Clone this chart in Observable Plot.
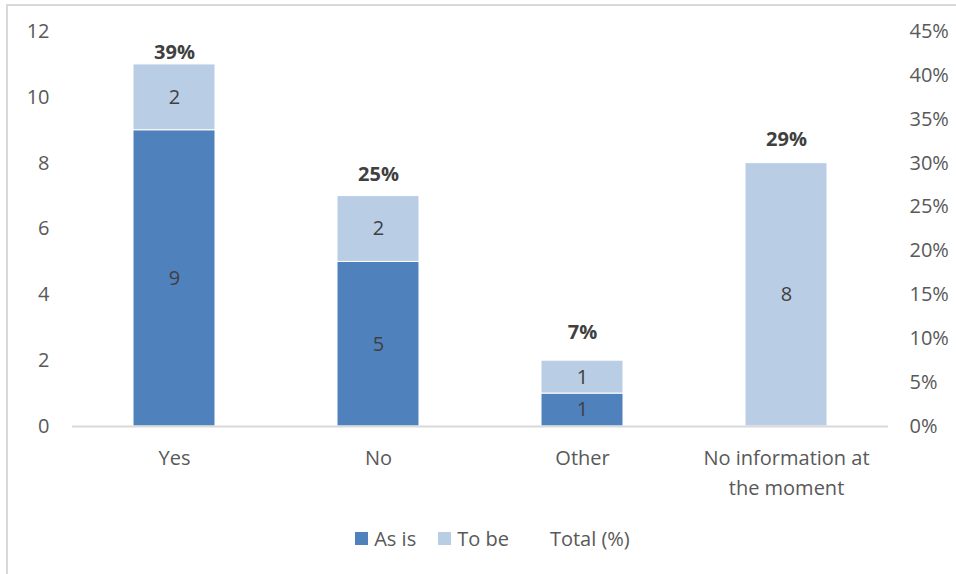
<!DOCTYPE html>
<html>
<head>
<meta charset="utf-8">
<script src="https://cdn.jsdelivr.net/npm/d3@7"></script>
<script src="https://cdn.jsdelivr.net/npm/@observablehq/plot@0.6"></script>
<style>
  html, body { margin: 0; padding: 0; background: #fff; }
  body { width: 956px; height: 574px; position: relative; overflow: hidden; font-family: "Open Sans", sans-serif; }
  #frame { position: absolute; left: 6px; top: 4px; width: 960px; height: 580px; border-left: 2px solid #D9D9D9; border-top: 2px solid #D9D9D9; }
  #chart { position: absolute; left: 0; top: 0; }
  #legend { position: absolute; top: 524px; left: 0; width: 956px; height: 28px; display: flex; justify-content: center; align-items: center; gap: 22px; font-size: 20px; color: #595959; padding-left: 29px; box-sizing: border-box; }
  .item { display: flex; align-items: center; }
  .sw { width: 13px; height: 13px; margin-right: 6px; }
</style>
</head>
<body>
<div id="frame"></div>
<div id="chart"></div>
<div id="legend"></div>
<script>
const categories = ["Yes", "No", "Other", "No information at the moment"];
const categoryLabels = ["Yes", "No", "Other", "No information at\nthe moment"];
const series = ["As is", "To be"];
const asIs = [9, 5, 1, 0];
const toBe = [2, 2, 1, 8];
const totalPct = [39, 25, 7, 29];
const leftTicks = [0, 2, 4, 6, 8, 10, 12];
const rightTicks = [0, 5, 10, 15, 20, 25, 30, 35, 40, 45];
const colors = ["#4F81BD", "#B9CDE5"];

const rows = [];
categories.forEach((c, i) => rows.push({cat: c, series: "As is", value: asIs[i]}));
categories.forEach((c, i) => rows.push({cat: c, series: "To be", value: toBe[i]}));
const totals = categories.map((c, i) => ({cat: c, pct: totalPct[i]}));

const pctToY = p => p * 12 / 45;
const textColor = "#595959";
const FS = 20;

const chart = Plot.plot({
  width: 956,
  height: 500,
  marginTop: 31,
  marginBottom: 74,
  marginLeft: 72,
  marginRight: 68,
  style: {fontFamily: "'Open Sans', sans-serif", fontSize: FS + "px", color: textColor, background: "transparent"},
  x: {domain: categories, paddingInner: 0.6, paddingOuter: 0.3, axis: null},
  y: {domain: [0, 12], axis: null},
  color: {domain: series, range: colors},
  marks: [
    Plot.axisY({ticks: leftTicks, tickSize: 0, tickPadding: 23, anchor: "left", label: null, fontSize: FS, fill: textColor}),
    Plot.axisY({ticks: rightTicks.map(pctToY), tickSize: 0, tickPadding: 21, anchor: "right", label: null,
      tickFormat: d => Math.round(d * 45 / 12) + "%", fontSize: FS, fill: textColor}),
    Plot.axisX({tickSize: 0, tickPadding: 17, label: null, fontSize: FS, fill: textColor, lineHeight: 1.5,
      tickFormat: d => categoryLabels[categories.indexOf(d)]}),
    Plot.barY(rows, Plot.stackY({x: "cat", y: "value", fill: "series", stroke: "white", strokeWidth: 1, filter: d => d.value > 0})),
    Plot.ruleY([0], {stroke: "#D9D9D9", strokeWidth: 2}),
    Plot.text(rows, Plot.stackY({x: "cat", y: "value", z: "series", text: d => String(d.value), filter: d => d.value > 0, fill: "#404040", fontSize: FS})),
    Plot.text(totals, {x: "cat", y: d => pctToY(d.pct), text: d => d.pct + "%", dy: -32, fill: "#404040", fontSize: FS, fontWeight: "bold"})
  ]
});
document.getElementById("chart").appendChild(chart);

const legend = document.getElementById("legend");
const legendItems = [{label: "As is", color: colors[0]}, {label: "To be", color: colors[1]}, {label: "Total (%)", color: null}];
legendItems.forEach(it => {
  const d = document.createElement("div");
  d.className = "item";
  const sw = document.createElement("div");
  sw.className = "sw";
  sw.style.background = it.color || "transparent";
  d.appendChild(sw);
  const t = document.createElement("span");
  t.textContent = it.label;
  d.appendChild(t);
  legend.appendChild(d);
});
</script>
</body>
</html>
